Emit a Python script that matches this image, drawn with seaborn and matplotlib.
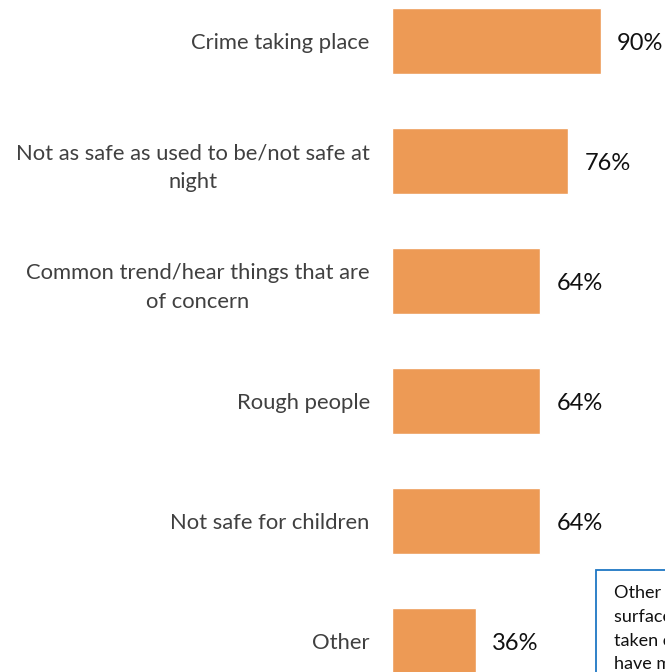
import matplotlib
matplotlib.use("Agg")
import matplotlib.pyplot as plt
from matplotlib.patches import Rectangle
import seaborn as sns
import pandas as pd

# Reasons given for feeling unsafe, share of respondents (%)
reasons = [
    "Crime taking place",
    "Not as safe as used to be/not safe at\nnight",
    "Common trend/hear things that are\nof concern",
    "Rough people",
    "Not safe for children",
    "Other",
]
shares = [90, 76, 64, 64, 64, 36]
value_labels = [f"{v}%" for v in shares]

note_text = "Other reasons\nsurfaced were\ntaken over by\nhave moved in"

sns.set_theme(style="white")
plt.rcParams["font.family"] = ["Lato", "DejaVu Sans"]

df = pd.DataFrame({"reason": reasons, "share": shares})

fig = plt.figure(figsize=(6.65, 6.72), dpi=100)
W, H = 665, 672
# axes placed in pixel terms: 120 px per category row, 2.32 px per percent
ax = fig.add_axes([392 / W, (H - 701) / H, 232 / W, 720 / H])

sns.barplot(data=df, x="share", y="reason", color="#ED9A55", saturation=1,
            width=0.55, ax=ax, orient="h")
ax.set_xlim(0, 100)
ax.set_ylim(5.5, -0.5)
ax.set_xlabel("")
ax.set_ylabel("")
ax.set_xticks([])
for s in ax.spines.values():
    s.set_visible(False)

ax.tick_params(axis="y", length=0, pad=16, labelsize=15.8, labelcolor="#404040")
for lbl in ax.get_yticklabels():
    lbl.set_multialignment("center")
    lbl.set_linespacing(1.55)

for i, (v, t) in enumerate(zip(shares, value_labels)):
    ax.annotate(t, xy=(v, i), xytext=(11.5, -2), textcoords="offset points",
                ha="left", va="center", fontsize=17, color="#111111",
                annotation_clip=False)

# explanatory note box at the lower right
fig.patches.append(Rectangle((596 / W, (H - 700) / H), 120 / W, 130 / H,
                             transform=fig.transFigure, fc="white",
                             ec="#1F77C4", lw=1.3, zorder=5))
fig.text(614 / W, (H - 585) / H, note_text, ha="left", va="top",
         fontsize=13, color="#111111", linespacing=1.6, zorder=6)

fig.savefig("out.png", dpi=100)
